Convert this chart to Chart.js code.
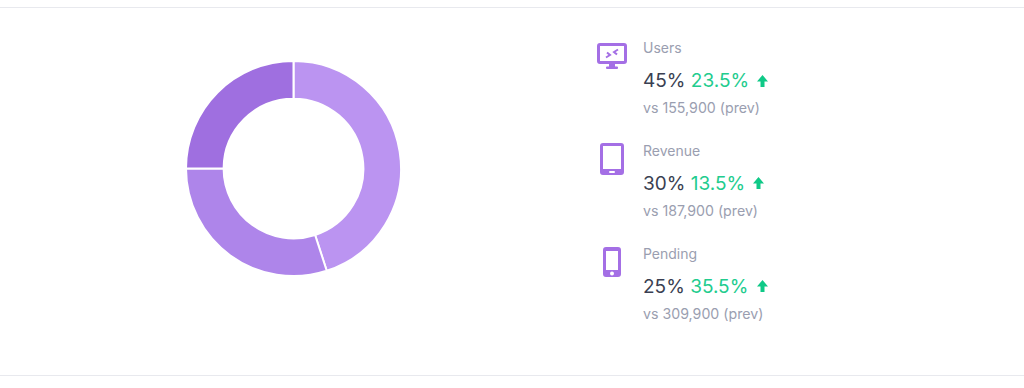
<!DOCTYPE html>
<html>
<head>
<meta charset="utf-8">
<script src="https://cdn.jsdelivr.net/npm/chart.js@4"></script>
<style>
  html, body { margin: 0; padding: 0; background: #fff; }
  body { width: 1024px; height: 388px; position: relative; overflow: hidden; font-family: "Inter", sans-serif; }
  .rule { position: absolute; left: 0; width: 1024px; height: 1px; background: #e8e9ee; }
  #donut { position: absolute; left: 185px; top: 60px; }
  .item { position: absolute; left: 643px; white-space: nowrap; }
  .item div { position: absolute; left: 0; white-space: nowrap; }
  .name { top: 0; font-size: 14px; line-height: 18px; color: #9a9eb0; }
  .vals { top: 30px; font-size: 19px; line-height: 24px; color: #3a3f52; }
  .vals span { color: #22cc8e; }
  .prev { top: 60px; font-size: 14.2px; line-height: 18px; color: #9a9eb0; }
  .icon { position: absolute; fill: #a46fe5; }
  .arrow { position: absolute; fill: #0fc987; }
</style>
</head>
<body>
<div class="rule" style="top:7px"></div>
<div class="rule" style="top:375px"></div>
<canvas id="donut" width="217" height="217"></canvas>
<div id="legend"></div>

<script>
// Donut + side list
const categories = ["Users", "Revenue", "Pending"];
const shares = [45, 30, 25];
const changes = ["23.5%", "13.5%", "35.5%"];
const previous = ["155,900", "187,900", "309,900"];
const sliceColors = ["#bb94f1", "#ae85ea", "#9f6fe0"];

const rowTops = [39, 142, 245];
const arrowLefts = [757, 753, 757];
const arrowTops = [75, 177, 280];
const icons = [
  `<svg class="icon" style="left:597px;top:43px" width="30" height="26" viewBox="0 0 30 26">
     <path fill-rule="evenodd" d="M3 0h24a3 3 0 0 1 3 3v15a3 3 0 0 1-3 3H3a3 3 0 0 1-3-3V3a3 3 0 0 1 3-3zm0 3v15h24V3z"/>
     <rect x="12" y="21" width="6" height="3"/><rect x="9" y="23.500" width="12" height="2.500" rx="1"/>
     <path d="M21 6.500L17 9l3 2.500" fill="none" stroke="#a46fe5" stroke-width="2"/>
     <path d="M9 14.500L13 12l-3-2.500" fill="none" stroke="#a46fe5" stroke-width="2"/>
   </svg>`,
  `<svg class="icon" style="left:600px;top:143px" width="24" height="32" viewBox="0 0 24 32">
     <path fill-rule="evenodd" d="M3 0h18a3 3 0 0 1 3 3v26a3 3 0 0 1-3 3H3a3 3 0 0 1-3-3V3a3 3 0 0 1 3-3zm0 3v23h18V3z"/>
     <rect x="9" y="28" width="6" height="2" rx="1" fill="#fff"/>
   </svg>`,
  `<svg class="icon" style="left:603px;top:247px" width="18" height="30" viewBox="0 0 18 30">
     <path fill-rule="evenodd" d="M3 0h12a3 3 0 0 1 3 3v24a3 3 0 0 1-3 3H3a3 3 0 0 1-3-3V3a3 3 0 0 1 3-3zm0 4v19h12V4z"/>
     <circle cx="9" cy="26.500" r="2" fill="#fff"/>
   </svg>`
];

let html = "";
categories.forEach((name, i) => {
  html += icons[i];
  html += `<div class="item" style="top:${rowTops[i]}px">
    <div class="name">${name}</div>
    <div class="vals">${shares[i]}% <span>${changes[i]}</span></div>
    <div class="prev">vs ${previous[i]} (prev)</div>
  </div>`;
  html += `<svg class="arrow" style="left:${arrowLefts[i]}px;top:${arrowTops[i]}px" width="11" height="12" viewBox="0 0 11 12">
    <path d="M5.500 0L11 6.500H7.500V12h-4V6.500H0z"/></svg>`;
});
document.getElementById("legend").innerHTML = html;

new Chart(document.getElementById("donut"), {
  type: "doughnut",
  data: {
    labels: categories,
    datasets: [{
      data: shares,
      backgroundColor: sliceColors,
      borderColor: "#fff",
      borderWidth: 2
    }]
  },
  options: {
    responsive: false,
    animation: false,
    cutout: "65%",
    plugins: {
      legend: { display: false },
      tooltip: { enabled: false }
    }
  }
});
</script>
</body>
</html>
